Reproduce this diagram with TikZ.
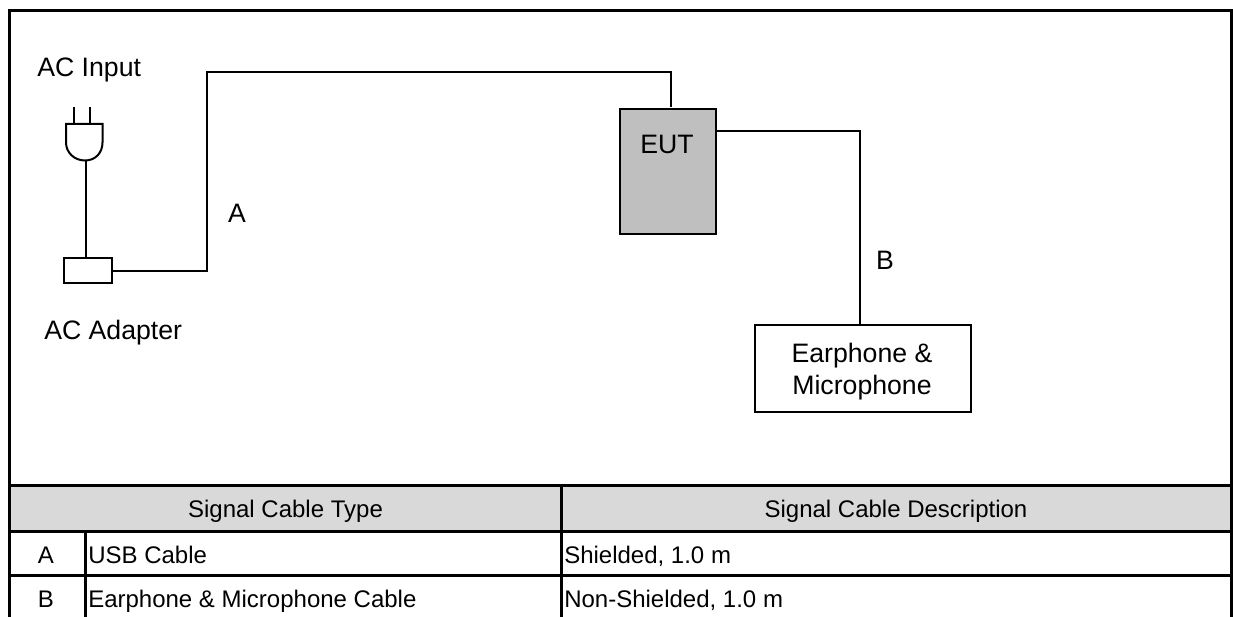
\documentclass[tikz,border=0pt]{standalone}
\usepackage{fontspec}
\setmainfont{Liberation Sans}
\tikzset{
  wire/.style={line width=1.5pt,line join=miter},
  frameline/.style={line width=2.25pt},
  box/.style={draw,line width=1.5pt,inner sep=0pt,anchor=north west},
  big/.style={font=\fontsize{20pt}{24pt}\selectfont,inner sep=0pt,align=center},
  small/.style={font=\fontsize{18pt}{20pt}\selectfont,inner sep=0pt},
}
\begin{document}
\begin{tikzpicture}[x=0.75pt,y=-0.75pt]
\useasboundingbox (0,0) rectangle (1233,617);
% table header fill and frame
\fill[fill={rgb,255:red,217;green,217;blue,217}] (9,485) rectangle (1231,531);
\draw[frameline] (9,617) -- (9,11) -- (1231,11) -- (1231,617);
\draw[frameline] (9,485) -- (1231,485);
\draw[frameline] (9,531) -- (1231,531);
\draw[frameline] (9,575.5) -- (1231,575.5);
\draw[frameline] (561.5,485) -- (561.5,617);
\draw[frameline] (85,531) -- (85,617);
% diagram
\node[box,minimum width=72pt,minimum height=93.75pt,fill={rgb,255:red,191;green,191;blue,191}] (eut) at (619,108) {};
\node[big,anchor=base] (euttext) at (667,153) {EUT};
\node[box,minimum width=36.5pt,minimum height=18.5pt] (adapter) at (62.7,257) {};
\node[box,minimum width=162pt,minimum height=65.25pt] (ear) at (754,324) {};
\node[big,anchor=center] (eartext) at (862,371.5) {Earphone \&\\Microphone};
\coordinate (plugbot) at (86,160.5);
\coordinate (eutin) at (671,107);
\coordinate (eutout) at (715.5,131.5);
\coordinate (earin) at (859.5,324);
\coordinate (acorner) at (207,72);
\coordinate (adout) at (111.3,270.5);
% plug
\draw[wire] (66,124) -- (102.5,124) -- (102.5,142.5) .. controls (102.5,152.7) and (95.5,160.5) .. (85,160.5) .. controls (74.5,160.5) and (66,152.7) .. (66,142.5) -- cycle;
\draw[wire] (74,107.5) -- (74,124);
\draw[wire] (90,107.5) -- (90,124);
\draw[wire] (plugbot) -- (plugbot |- adapter.north);
% cables
\draw[wire] (adout) -| (acorner) -| (eutin);
\draw[wire] (eutout) -| (earin);
% labels
\node[big,anchor=base west] (acin) at (37,77) {AC Input};
\node[big,anchor=base west] (acad) at (44,339) {AC Adapter};
\node[big,anchor=base] (la) at (237,222) {A};
\node[big,anchor=base] (lb) at (885,269) {B};
% table text
\node[small,anchor=base] (h1) at (285.5,517) {Signal Cable Type};
\node[small,anchor=base] (h2) at (896,517) {Signal Cable Description};
\node[small,anchor=base] (ra) at (46,563) {A};
\node[small,anchor=base] (rb) at (46,607) {B};
\node[small,anchor=base west] (ra1) at (88,563) {USB Cable};
\node[small,anchor=base west] (rb1) at (88,607) {Earphone \& Microphone Cable};
\node[small,anchor=base west] (ra2) at (564,563) {Shielded, 1.0 m};
\node[small,anchor=base west] (rb2) at (564,607) {Non-Shielded, 1.0 m};
\end{tikzpicture}
\end{document}
